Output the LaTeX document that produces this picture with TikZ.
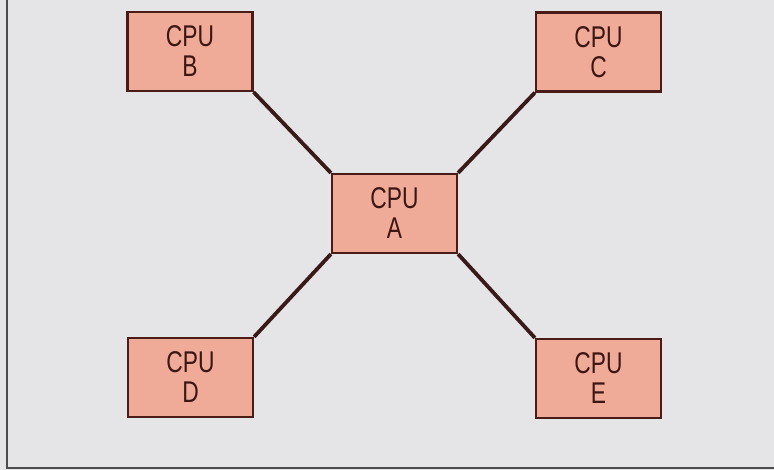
\documentclass[tikz,border=0pt]{standalone}
\usepackage{fontspec}
\setmainfont{Liberation Sans}[FakeStretch=0.76]
\definecolor{bg}{HTML}{E5E5E7}
\definecolor{boxfill}{HTML}{EFAA98}
\definecolor{boxedge}{HTML}{4A1C18}
\definecolor{wire}{HTML}{3A1A18}
\begin{document}
\begin{tikzpicture}[x=1pt,y=-1pt,
  cpu/.style={draw=boxedge,line width=2.2pt,fill=boxfill,minimum width=125pt,minimum height=79pt,
    inner sep=0pt,align=center,font=\fontsize{30}{30}\selectfont,text=boxedge!80!black},
  wireline/.style={wire,line width=3.8pt}]
\useasboundingbox (0,0) rectangle (774,470);
\fill[bg] (0,0) rectangle (774,470);
\draw[gray!60!black,line width=2pt] (7,0) -- (7,468) -- (774,468);
\node[cpu] (A) at (394.5,213.5) {CPU\\A};
\node[cpu] (B) at (190,51.5) {CPU\\B};
\node[cpu] (C) at (598.5,52) {CPU\\C};
\node[cpu] (D) at (190.5,377.5) {CPU\\D};
\node[cpu] (E) at (598.5,378.5) {CPU\\E};
\draw[wireline] (B.south east) -- (A.north west);
\draw[wireline] (C.south west) -- (A.north east);
\draw[wireline] (D.north east) -- (A.south west);
\draw[wireline] (E.north west) -- (A.south east);
\end{tikzpicture}
\end{document}
